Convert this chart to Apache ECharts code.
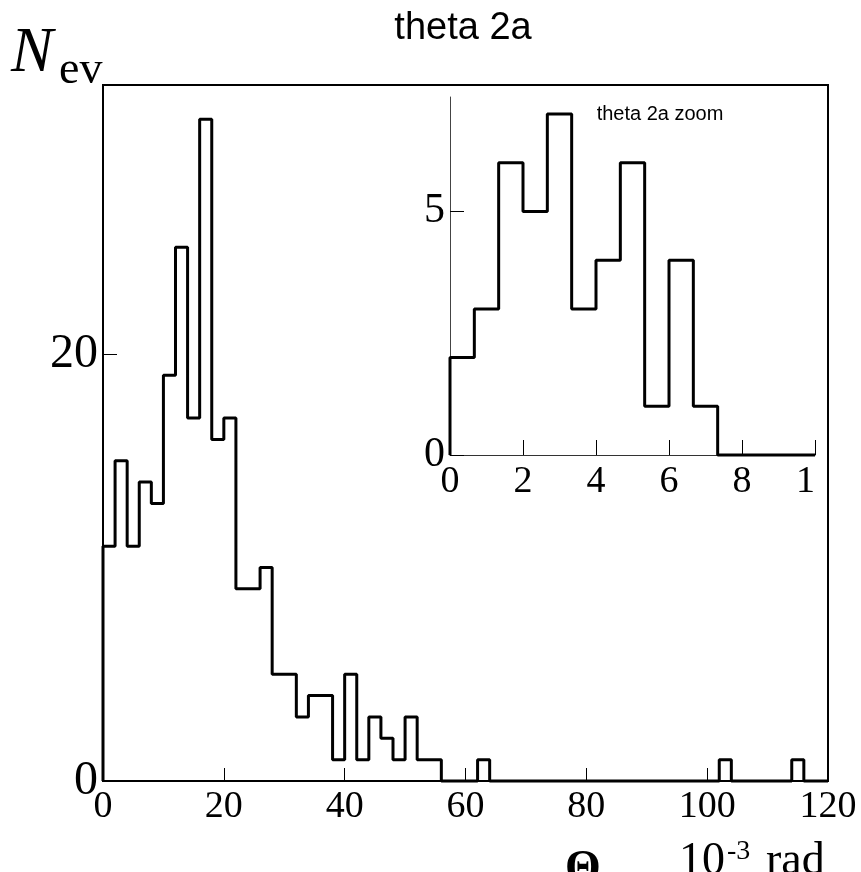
<!DOCTYPE html>
<html>
<head>
<meta charset="utf-8">
<script src="https://cdn.jsdelivr.net/npm/echarts@6/dist/echarts.min.js"></script>
<style>
  html, body { margin: 0; padding: 0; background: #fff; }
  #chart { width: 861px; height: 872px; }
</style>
</head>
<body>
<div id="chart"></div>
<script>
// main histogram: 60 bins of width 2 over 0..120 (10^-3 rad)
const mainBinWidth = 2;
const mainCounts = [
    11, 15, 11, 14, 13, 19, 25, 17, 31, 16,
    17, 9, 9, 10, 5, 5, 3, 4, 4, 1,
    5, 1, 3, 2, 1, 3, 1, 1, 0, 0,
    0, 1, 0, 0, 0, 0, 0, 0, 0, 0,
    0, 0, 0, 0, 0, 0, 0, 0, 0, 0,
    0, 1, 0, 0, 0, 0, 0, 1, 0, 0
];
const mainYTicks = [0, 20];

// zoomed histogram: 15 bins over 0..10
const insetBinWidth = 10 / 15;
const insetCounts = [2, 3, 6, 5, 7, 3, 4, 6, 1, 4, 1, 0, 0, 0, 0];
const insetYTicks = [0, 5];

let chart = echarts.init(document.getElementById("chart"));

// outline of a histogram as step points
function histOutline(counts, width) {
    let pts = [[0, 0]];
    counts.forEach(function (c, i) {
        pts.push([i * width, c]);
    });
    let end = counts.length * width;
    pts.push([end, counts[counts.length - 1]]);
    pts.push([end, 0]);
    return pts;
}

const serif = "Liberation Serif";
const sans = "Liberation Sans";

function label(text, x, y, size, extra) {
    let style = {
        text: text,
        fontFamily: serif,
        fontSize: size,
        fill: "#000",
        align: "left",
        verticalAlign: "middle",
    };
    Object.assign(style, extra || {});
    return { type: "text", x: x, y: y, style: style };
}

let options = {
    animation: false,
    backgroundColor: "#fff",
    grid: [
        {
            left: 103,
            right: 33,
            top: 85,
            bottom: 91,
            show: true,
            borderColor: "#000",
            borderWidth: 2,
        },
        {
            left: 450,
            right: 46,
            top: 97,
            bottom: 417,
        },
    ],
    xAxis: [
        {
            gridIndex: 0,
            type: "value",
            min: 0,
            max: 120,
            interval: 20,
            splitLine: { show: false },
            axisLine: { lineStyle: { color: "#000", width: 2 } },
            axisTick: {
                inside: true,
                length: 13,
                lineStyle: { color: "#000", width: 1 },
            },
            axisLabel: {
                margin: 7,
                fontFamily: serif,
                fontSize: 38,
                color: "#000",
            },
        },
        {
            gridIndex: 1,
            type: "value",
            min: 0,
            max: 10,
            interval: 2,
            splitLine: { show: false },
            axisLine: { lineStyle: { color: "#333", width: 1 } },
            axisTick: {
                inside: true,
                length: 15,
                lineStyle: { color: "#000", width: 1 },
            },
            axisLabel: {
                margin: 8,
                fontFamily: serif,
                fontSize: 38,
                color: "#000",
                // the last label is cut at the pad edge in the original
                formatter: function (v) {
                    return v === 10 ? "{cut|1}" : String(v);
                },
                rich: {
                    cut: {
                        width: 38,
                        align: "left",
                        fontFamily: serif,
                        fontSize: 38,
                        color: "#000",
                    },
                },
            },
        },
    ],
    yAxis: [
        {
            gridIndex: 0,
            type: "value",
            min: 0,
            max: 32.6,
            splitLine: { show: false },
            axisLine: { lineStyle: { color: "#000", width: 2 } },
            axisTick: {
                inside: true,
                length: 14,
                customValues: mainYTicks,
                lineStyle: { color: "#000", width: 1 },
            },
            axisLabel: {
                margin: 5,
                customValues: mainYTicks,
                fontFamily: serif,
                fontSize: 48,
                color: "#000",
            },
        },
        {
            gridIndex: 1,
            type: "value",
            min: 0,
            max: 7.35,
            splitLine: { show: false },
            axisLine: { lineStyle: { color: "#444", width: 1 } },
            axisTick: {
                inside: true,
                length: 14,
                customValues: insetYTicks,
                lineStyle: { color: "#000", width: 1 },
            },
            axisLabel: {
                margin: 5,
                customValues: insetYTicks,
                fontFamily: serif,
                fontSize: 42,
                color: "#000",
            },
        },
    ],
    series: [
        {
            type: "line",
            xAxisIndex: 0,
            yAxisIndex: 0,
            step: "end",
            showSymbol: false,
            clip: false,
            lineStyle: { color: "#000", width: 3 },
            data: histOutline(mainCounts, mainBinWidth),
        },
        {
            type: "line",
            xAxisIndex: 1,
            yAxisIndex: 1,
            step: "end",
            showSymbol: false,
            clip: false,
            lineStyle: { color: "#000", width: 3 },
            data: histOutline(insetCounts, insetBinWidth),
        },
    ],
    graphic: [
        label("theta 2a", 463, 29, 38, { fontFamily: sans, align: "center" }),
        label("theta 2a zoom", 660, 114, 20, { fontFamily: sans, align: "center" }),
        label("N", 11, 54, 63, { fontStyle: "italic" }),
        label("ev", 59, 71, 46),
        label("Θ", 565, 870, 46, { fontWeight: "bold" }),
        label("10", 679, 862, 46),
        label("-3", 727, 852, 28),
        label("rad", 766, 862, 46),
    ],
};

chart.setOption(options);
</script>
</body>
</html>
